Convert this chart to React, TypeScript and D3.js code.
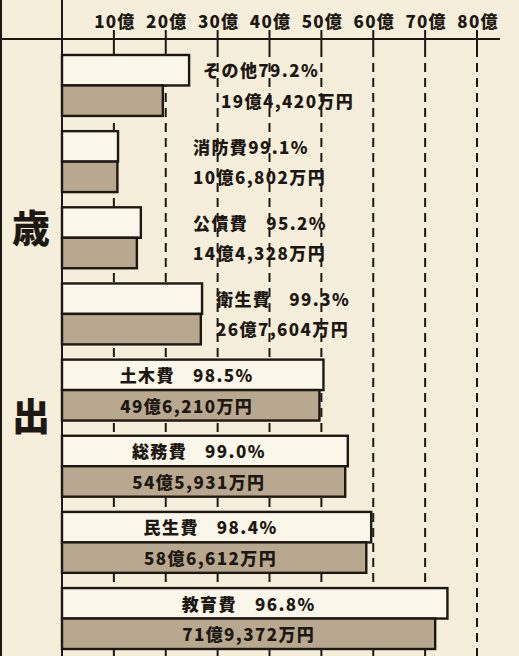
import * as d3 from "d3";

// 歳出 (億円): white = 予算額, shaded = 決算額, rate = 執行率
const CATEGORIES = ["その他", "消防費", "公債費", "衛生費", "土木費", "総務費", "民生費", "教育費"];
const BUDGET = [24.5, 10.8, 15.2, 27.0, 50.4, 55.1, 59.6, 74.3];
const ACTUAL = [19.442, 10.6802, 14.4328, 26.7604, 49.621, 54.5931, 58.6612, 71.9372];
const RATES = [79.2, 99.1, 95.2, 99.3, 98.5, 99.0, 98.4, 96.8];
const TICKS = [10, 20, 30, 40, 50, 60, 70, 80];

const W = 519;
const H = 656;
const INK = "#1e1812";
const FONT = "'Noto Sans CJK JP', 'Noto Sans', sans-serif";

const x = d3.scaleLinear().domain([0, 80]).range([62, 477]);
const y = d3
  .scaleBand<string>()
  .domain(CATEGORIES)
  .range([55, 649])
  .paddingInner(0.2)
  .paddingOuter(0);

// 19.442 -> "19億4,420万円"
function yen(v: number) {
  const man = Math.round(v * 10000);
  const oku = Math.floor(man / 10000);
  return `${oku}億${d3.format(",")(man % 10000)}万円`;
}

export default function App() {
  const bh = y.bandwidth() / 2;
  return (
    <svg
      width={W}
      height={H}
      style={{ position: "absolute", left: 0, top: 0, display: "block" }}
      fontFamily={FONT}
    >
      <rect width={W} height={H} fill="#f4eedb" />

      {/* frame */}
      <line x1={1} x2={1} y1={0} y2={H} stroke={INK} strokeWidth={2} />
      <line x1={0} x2={500} y1={39} y2={39} stroke={INK} strokeWidth={2} />

      {/* grid + ticks */}
      {TICKS.map((t) => (
        <g key={t}>
          <line x1={x(t)} x2={x(t)} y1={30} y2={48} stroke={INK} strokeWidth={2} />
          <line
            x1={x(t)}
            x2={x(t)}
            y1={48}
            y2={H}
            stroke={INK}
            strokeWidth={2}
            strokeDasharray="9,6"
          />
          <text
            x={x(t) + 1}
            y={28}
            textAnchor="middle"
            fontSize={17}
            fontWeight={900}
            letterSpacing={1.2}
            fill={INK}
          >
            {t}億
          </text>
        </g>
      ))}

      {/* bars */}
      {CATEGORIES.map((c, i) => {
        const y0 = y(c) ?? 0;
        return (
          <g key={c}>
            <rect
              x={x(0)}
              y={y0}
              width={x(BUDGET[i]) - x(0)}
              height={bh}
              fill="#faf6e9"
              stroke={INK}
              strokeWidth={2.4}
            />
            <rect
              x={x(0)}
              y={y0 + bh}
              width={x(ACTUAL[i]) - x(0)}
              height={bh}
              fill="#b8a88f"
              stroke={INK}
              strokeWidth={2.4}
            />
          </g>
        );
      })}

      {/* labels */}
      {CATEGORIES.map((c, i) => {
        const y0 = y(c) ?? 0;
        const inside = x(BUDGET[i]) > 300;
        const lx = inside
          ? (x(0) + x(BUDGET[i])) / 2 - 6
          : Math.max(x(BUDGET[i]) + 14, 193);
        const anchor = inside ? "middle" : "start";
        const gap = i < 2 ? 0 : 18;
        return (
          <g key={c} fontWeight={900} fontSize={17} fill={INK} letterSpacing={1.4}>
            <text x={lx} y={y0 + bh - 8} textAnchor={anchor}>
              <tspan>{c}</tspan>
              <tspan dx={gap}>{RATES[i].toFixed(1)}%</tspan>
            </text>
            <text x={lx + (i === 0 ? 18 : 0)} y={y0 + 2 * bh - 8} textAnchor={anchor}>
              {yen(ACTUAL[i])}
            </text>
          </g>
        );
      })}

      {/* axis */}
      <line x1={x(0)} x2={x(0)} y1={0} y2={H} stroke={INK} strokeWidth={2} />

      <text x={31} y={242} textAnchor="middle" fontSize={38} fontWeight={900} fill={INK}>
        歳
      </text>
      <text x={31} y={430} textAnchor="middle" fontSize={38} fontWeight={900} fill={INK}>
        出
      </text>
    </svg>
  );
}
